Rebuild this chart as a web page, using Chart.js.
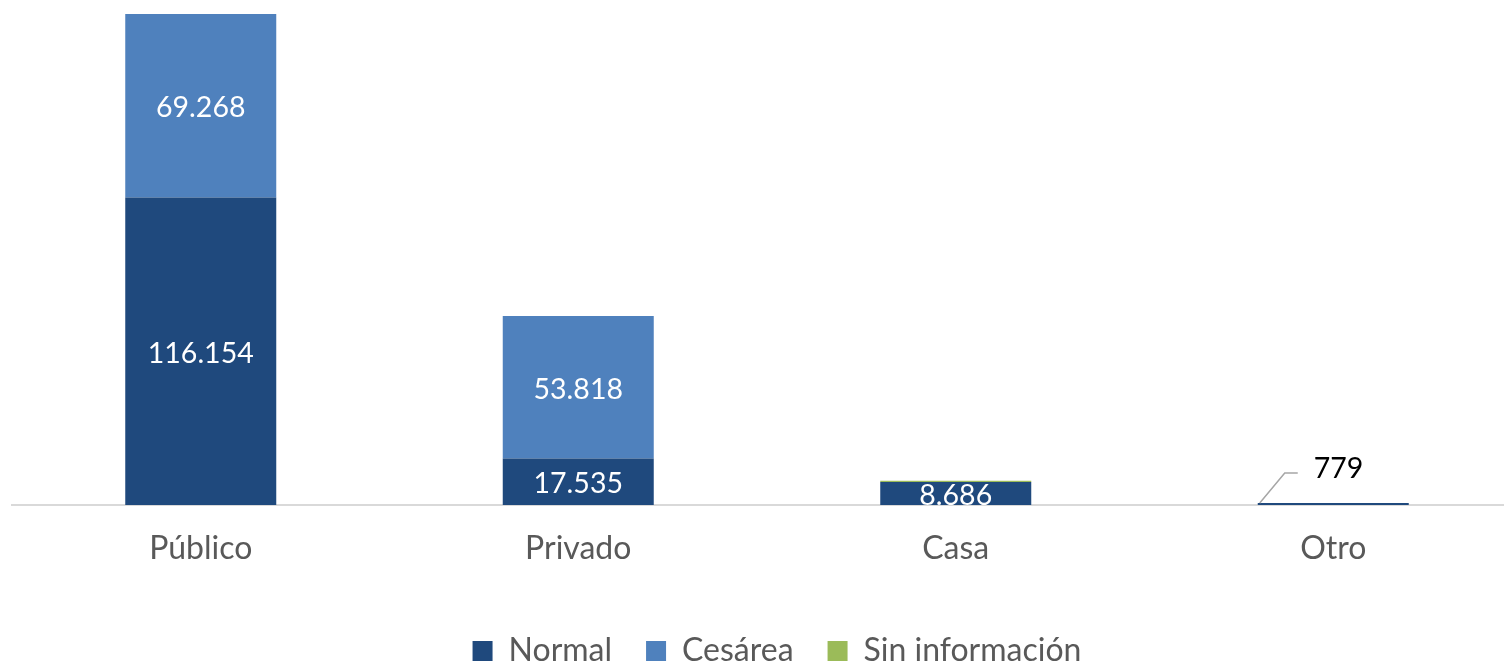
<!DOCTYPE html>
<html>
<head>
<meta charset="utf-8">
<script src="https://cdn.jsdelivr.net/npm/chart.js@4/dist/chart.umd.min.js"></script>
<style>
  html, body { margin: 0; padding: 0; background: #fff; overflow: hidden; }
  #wrap { width: 1530px; height: 665px; }
</style>
</head>
<body>
<div id="wrap"><canvas id="partos" width="1530" height="665"></canvas></div>
<script>
// categories and series
var categories = ['Público', 'Privado', 'Casa', 'Otro'];
var normal = [116154, 17535, 8686, 779];
var cesarea = [69268, 53818, 0, 0];
var sinInfo = [0, 0, 500, 0];
var yMax = 185422;

function fmt(n) {
  return String(n).replace(/\B(?=(\d{3})+(?!\d))/g, '.');
}

// draws the numbers in the bars, and the callout for the tiny one
var barLabels = {
  id: 'barLabels',
  afterLayout: function(chart) {
    // nudge the legend a bit to the right, like the original
    chart.legend.left += 10;
    chart.legend.right += 10;
  },
  afterDatasetsDraw: function(chart) {
    var ctx = chart.ctx;
    var area = chart.chartArea;
    ctx.save();
    ctx.font = '28.5px Lato';
    ctx.textAlign = 'center';
    ctx.textBaseline = 'middle';
    chart.data.datasets.forEach(function(ds, i) {
      if (i == 2) return;
      var meta = chart.getDatasetMeta(i);
      meta.data.forEach(function(bar, j) {
        var v = ds.data[j];
        if (!v) return;
        if (v >= 5000) {
          ctx.save();
          ctx.beginPath();
          ctx.rect(area.left, area.top, area.right - area.left, area.bottom - area.top);
          ctx.clip();
          ctx.fillStyle = '#ffffff';
          ctx.fillText(fmt(v), bar.x, (bar.y + bar.base) / 2 + 2.5);
          ctx.restore();
        } else {
          // leader line + label above the bar
          var x0 = bar.x - bar.width / 2 + 2;
          var y0 = bar.y;
          ctx.strokeStyle = '#a6a6a6';
          ctx.lineWidth = 1.5;
          ctx.beginPath();
          ctx.moveTo(x0, y0);
          ctx.lineTo(x0 + 25, y0 - 30);
          ctx.lineTo(x0 + 38, y0 - 30);
          ctx.stroke();
          ctx.fillStyle = '#000000';
          ctx.textAlign = 'left';
          ctx.fillText(fmt(v), x0 + 54, y0 - 34);
          ctx.textAlign = 'center';
        }
      });
    });
    ctx.restore();
  }
};

Chart.defaults.font.family = 'Lato';
var chart = new Chart('partos', {
  type: 'bar',
  data: {
    labels: categories,
    datasets: [
      { label: 'Normal', data: normal, backgroundColor: '#1f497d' },
      { label: 'Cesárea', data: cesarea, backgroundColor: '#4f81bd' },
      { label: 'Sin información', data: sinInfo, backgroundColor: '#9bbb59' }
    ]
  },
  options: {
    responsive: false,
    animation: false,
    barPercentage: 0.4,
    categoryPercentage: 1,
    layout: { padding: { top: 14, left: 12, right: 8, bottom: -12 } },
    scales: {
      x: {
        stacked: true,
        grid: { display: false },
        border: { color: '#d9d9d9', width: 2 },
        ticks: { color: '#595959', font: { size: 32 }, padding: 16 },
        afterFit: function(s) { s.height = 96; }
      },
      y: {
        stacked: true,
        display: false,
        min: 0,
        max: yMax
      }
    },
    plugins: {
      legend: {
        position: 'bottom',
        labels: {
          color: '#595959',
          font: { size: 32 },
          boxWidth: 20,
          boxHeight: 20,
          padding: 34
        }
      },
      tooltip: { enabled: false }
    }
  },
  plugins: [barLabels]
});
</script>
</body>
</html>
